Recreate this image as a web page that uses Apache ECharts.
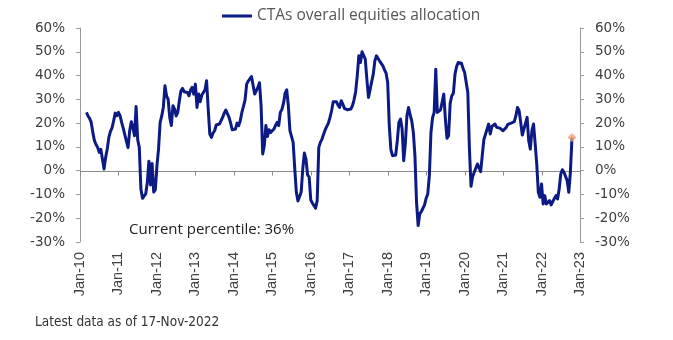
<!DOCTYPE html>
<html>
<head>
<meta charset="utf-8">
<script src="https://cdn.jsdelivr.net/npm/echarts@6/dist/echarts.min.js"></script>
<style>
  html, body { margin: 0; padding: 0; background: #fff; }
  #chart { width: 673px; height: 340px; }
</style>
</head>
<body>
<div id="chart"></div>
<script>
// CTA overall equities allocation (%), sampled twice a month.
const seriesName = 'CTAs overall equities allocation';
const alloc2010 = [24.5, 23, 22, 20.3, 16.1, 12.6, 11, 9.8, 7.7, 9, 4.9, 0.7, 5.6, 9.1, 14, 16.5, 18, 21, 24.2, 23.1]; // from early March
const alloc2011 = [24.5, 23.1, 20.3, 17.8, 15, 12.3, 9.7, 16.8, 20.6, 18.2, 14.7, 27, 13, 9.8, -7.7, -11.6, -11.2, -9.8, -5, 4, -6, 3, -9, -8];
const alloc2012 = [2, 9, 20.3, 23, 26.6, 35.7, 31.5, 30, 22.4, 19, 27.3, 26, 23, 24.5, 29.4, 33.6, 34.6, 33.2, 34, 32.9, 31.5, 34, 35, 32.2];
const alloc2013 = [36.4, 26.6, 32.2, 29, 31.8, 32.9, 34, 37.8, 26, 15.4, 14, 15.8, 16.8, 19.2, 19.5, 19.6, 21, 22.4, 24.2, 25.5, 25.2, 22.4, 20, 17.2];
const alloc2014 = [16.4, 17.5, 20, 18.9, 21, 24.5, 27, 29.8, 36.4, 37.7, 38.4, 39.6, 39, 32.2, 31.5, 35, 37, 27.3, 7, 10.5, 19, 14.4, 17.2, 16.1];
const alloc2015 = [16.8, 17.5, 19, 20.3, 19, 24.5, 25.8, 28.4, 32.6, 34, 27.3, 16.8, 16.8, 11.9, 1, -9.1, -12.7, -12.2, -9.1, 0.7, 7.4, 4.9, -1.8, -2.7];
const alloc2016 = [-12.3, -13.6, -14.1, -15.8, -12.6, 9.8, 11.9, 13.3, 13.3, 17.2, 18.6, 20, 22.4, 25.2, 29, 28.4, 29, 27.6, 26.6, 29.4, 28, 26.2, 25.9, 25.6];
const alloc2017 = [25.5, 25.9, 27.3, 29.8, 33.2, 39.9, 48.3, 45.5, 50, 50.4, 46.9, 38.5, 30.8, 34, 37.4, 40.6, 46.2, 48.3, 47.2, 46.1, 46.6, 44.1, 42.4, 41];
const alloc2018 = [37.1, 18.9, 8.8, 6.3, 5.6, 6.6, 12.6, 20.3, 21.7, 17.5, 4.2, 11.2, 23.1, 26.6, 23.4, 21, 16.1, 6.3, -13.3, -23.1, -18.2, -17.2, -15.8, -14.4];
const alloc2019 = [-11.6, -9.8, -2.1, 16.1, 22.3, 24.5, 42.7, 24.5, 24.8, 25.6, 24.8, 32.2, 21.7, 13.6, 14.7, 28.4, 31.5, 32.6, 40.6, 43.8, 45.5, 44.8, 45.2, 43];
const alloc2020 = [41.3, 42, 32.9, 9.1, -6.6, -2.5, -0.7, -0.4, 2.8, 2.8, -0.4, 6.3, 13, 12.2, 17.5, 19.6, 15.4, 18.6, 19.2, 19.6, 18.2, 17.5, 17.9, 17.8];
const alloc2021 = [16.8, 16.8, 18.2, 19.5, 18.9, 20, 19.2, 20.6, 23.1, 26.6, 25.2, 20.3, 15, 17.5, 18.2, 22.4, 12.6, 9.1, 16.8, 19.6, 11.6, 2.8, -9.1, -11.2];
const alloc2022 = [-5.6, -14, -10.5, -14, -13.3, -12.6, -14.4, -13, -12.6, -10.5, -11.9, -7.7, -1.4, 0.4, -0.7, -1.4, -4.2, -9.1, -0.7, 14]; // to 17-Nov

const years = [2010, 2011, 2012, 2013, 2014, 2015, 2016, 2017, 2018, 2019, 2020, 2021, 2022];
const yearlyValues = [alloc2010, alloc2011, alloc2012, alloc2013, alloc2014, alloc2015, alloc2016,
                      alloc2017, alloc2018, alloc2019, alloc2020, alloc2021, alloc2022];
const firstSlot2010 = 4;       // 2010 observations start in the 5th half-month slot
const slotsPerYear = 24;

const xTickYears = [2010, 2011, 2012, 2013, 2014, 2015, 2016, 2017, 2018, 2019, 2020, 2021, 2022, 2023];
const yTicks = [-30, -20, -10, 0, 10, 20, 30, 40, 50, 60];
const percentileText = 'Current percentile: 36%';
const footnoteText = 'Latest data as of 17-Nov-2022';

// Build [time-in-years, value] pairs
const points = [];
years.forEach((yr, k) => {
  const start = k === 0 ? firstSlot2010 : 0;
  yearlyValues[k].forEach((v, i) => points.push([yr + (start + i) / slotsPerYear, v]));
});
const lastPoint = points[points.length - 1];

const navy = '#0c1a86';
const axisGrey = '#9a9a9a';
const baselineGrey = '#8a8a8a';
const labelGrey = '#404040';
const yMin = yTicks[0], yMax = yTicks[yTicks.length - 1];

const yAxisBase = (pos) => ({
  type: 'value',
  position: pos,
  min: yMin,
  max: yMax,
  interval: 10,
  axisLine: { show: true, onZero: false, lineStyle: { color: axisGrey, width: 1 } },
  axisTick: { show: true, length: 4, lineStyle: { color: axisGrey } },
  axisLabel: { formatter: '{value}%', fontSize: 13.5, color: labelGrey, margin: 15, fontFamily: 'DejaVu Sans' },
  splitLine: { show: false }
});

// 0% baseline across the plot, with a short downward tick at each January
function renderBaseline(params, api) {
  const crisp = (v) => Math.round(v) + 0.5;
  const p = api.coord([api.value(0), 0]);
  const x = crisp(p[0]), y = crisp(p[1]);
  const children = [{
    type: 'line',
    shape: { x1: x, y1: y, x2: x, y2: y + 4 },
    style: { stroke: baselineGrey, lineWidth: 1 }
  }];
  if (params.dataIndex === 0) {
    const q = api.coord([xTickYears[xTickYears.length - 1], 0]);
    children.push({
      type: 'line',
      shape: { x1: x, y1: y, x2: crisp(q[0]), y2: y },
      style: { stroke: baselineGrey, lineWidth: 1 }
    });
  }
  return { type: 'group', children };
}

const chart = echarts.init(document.getElementById('chart'), null, { renderer: 'canvas' });
chart.setOption({
  animation: false,
  backgroundColor: '#ffffff',
  legend: {
    data: [seriesName],
    left: 222,
    top: 8,
    padding: 0,
    icon: 'rect',
    itemWidth: 30,
    itemHeight: 3,
    textStyle: { fontSize: 15.5, color: '#555555', fontFamily: 'Open Sans' }
  },
  grid: { left: 80, right: 93, top: 28, bottom: 98, containLabel: false, outerBoundsMode: 'none' },
  xAxis: {
    type: 'value',
    min: xTickYears[0],
    max: xTickYears[xTickYears.length - 1],
    interval: 1,
    position: 'bottom',
    axisLine: { show: false, onZero: false },
    axisTick: { show: false },
    axisLabel: {
      rotate: 90,
      margin: 10,
      fontSize: 14.5,
      color: labelGrey,
      fontFamily: 'Liberation Sans',
      formatter: (v) => 'Jan-' + String(Math.round(v)).slice(2)
    },
    splitLine: { show: false }
  },
  yAxis: [yAxisBase('left'), yAxisBase('right')],
  series: [
    {
      type: 'custom',
      silent: true,
      z: 1,
      data: xTickYears.map((yr) => [yr, 0]),
      encode: { x: 0, y: 1 },
      renderItem: renderBaseline
    },
    {
      name: seriesName,
      type: 'line',
      data: points,
      showSymbol: false,
      color: navy,
      lineStyle: { color: navy, width: 3, join: 'round' },
      z: 3
    },
    {
      name: 'latest',
      type: 'scatter',
      data: [lastPoint],
      symbol: 'diamond',
      symbolSize: 9,
      itemStyle: { color: '#f2a27a' },
      z: 4
    }
  ],
  graphic: [
    {
      type: 'text',
      left: 129,
      top: 222,
      style: { text: percentileText, fontSize: 15, fill: '#222222', fontFamily: 'Open Sans' }
    },
    {
      type: 'text',
      left: 35,
      top: 315,
      style: { text: footnoteText, fontSize: 13.5, fill: '#333333', fontFamily: "'DejaVu Sans Condensed', 'Liberation Sans', sans-serif" }
    }
  ]
});
</script>
</body>
</html>
